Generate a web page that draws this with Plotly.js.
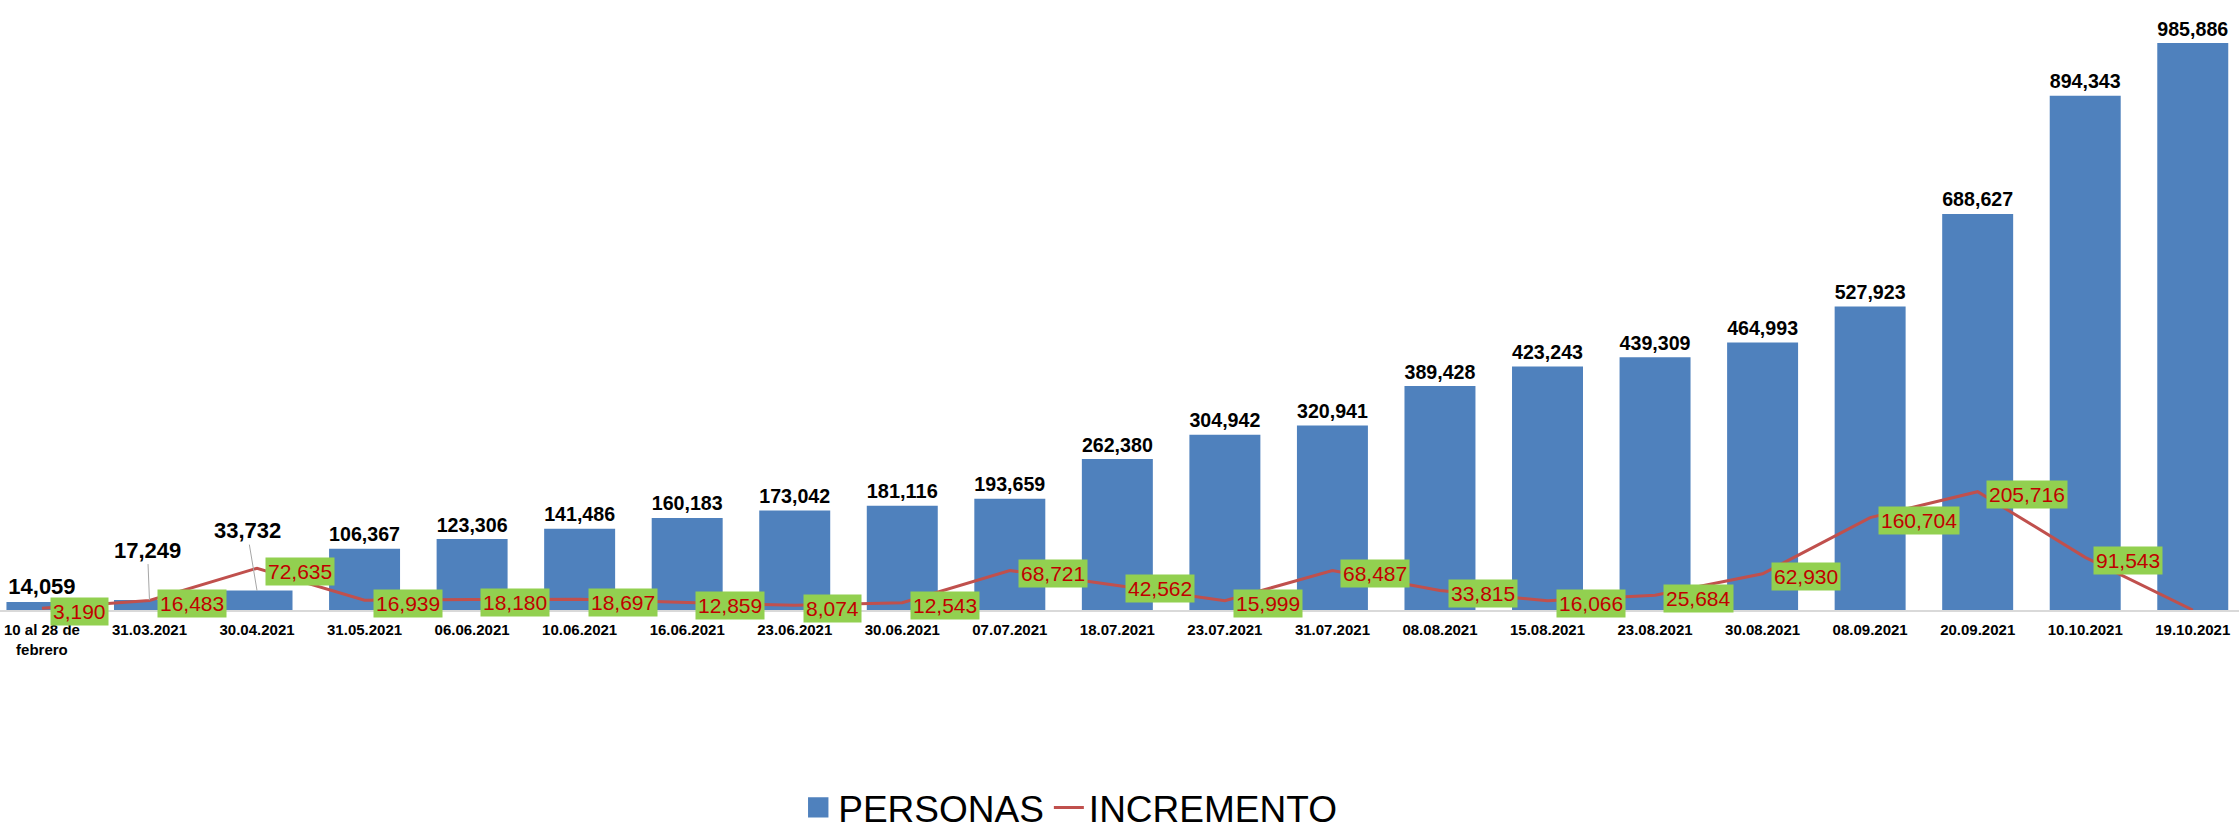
<!DOCTYPE html>
<html>
<head>
<meta charset="utf-8">
<script src="https://cdn.plot.ly/plotly-3.0.1.min.js"></script>
<style>html,body{margin:0;padding:0;background:#fff;}#chart{width:2239px;height:832px;}</style>
</head>
<body>
<div id="chart"></div>
<script>
const categories = ["10 al 28 de<br>febrero","31.03.2021","30.04.2021","31.05.2021","06.06.2021","10.06.2021","16.06.2021","23.06.2021","30.06.2021","07.07.2021","18.07.2021","23.07.2021","31.07.2021","08.08.2021","15.08.2021","23.08.2021","30.08.2021","08.09.2021","20.09.2021","10.10.2021","19.10.2021"];
const personas = [14059,17249,33732,106367,123306,141486,160183,173042,181116,193659,262380,304942,320941,389428,423243,439309,464993,527923,688627,894343,985886];
const incremento = [3190,16483,72635,16939,18180,18697,12859,8074,12543,68721,42562,15999,68487,33815,16066,25684,62930,160704,205716,91543,0];
const calloutIdx = [1, 2];
const calloutOffsets = {1: [-2, -50], 2: [-10, -60]};

const fmt = v => v.toLocaleString('en-US');
const barText = personas.map((v, i) => calloutIdx.includes(i) ? '' : fmt(v));

const bars = {
  type: 'bar', name: 'PERSONAS', x: categories, y: personas,
  marker: {color: '#4F81BD'},
  text: barText, textposition: 'outside', cliponaxis: false,
  textfont: {family: 'Arial, Liberation Sans', size: 22, color: '#000', weight: 'bold'},
  hoverinfo: 'x+y'
};
const line = {
  type: 'scatter', mode: 'lines', name: 'INCREMENTO', x: categories, y: incremento,
  line: {color: '#C0504D', width: 3}, cliponaxis: false
};

const annotations = [];
incremento.forEach((v, i) => {
  if (v === 0) return;
  annotations.push({
    x: categories[i], y: v, xref: 'x', yref: 'y', text: fmt(v), showarrow: false,
    xanchor: 'left', yanchor: 'middle', xshift: 8, yshift: -3,
    bgcolor: '#92D050', borderpad: 2,
    font: {family: 'Arial, Liberation Sans', size: 21, color: '#C00000'}
  });
});
calloutIdx.forEach(i => {
  annotations.push({
    x: categories[i], y: personas[i], xref: 'x', yref: 'y', text: '<b>' + fmt(personas[i]) + '</b>',
    showarrow: true, arrowhead: 0, arrowwidth: 1, arrowcolor: '#a6a6a6',
    ax: calloutOffsets[i][0], ay: calloutOffsets[i][1], standoff: 0,
    font: {family: 'Arial, Liberation Sans', size: 22, color: '#000'}
  });
});

const layout = {
  width: 2239, height: 832,
  margin: {l: 0, r: 0, t: 0, b: 222, autoexpand: false},
  paper_bgcolor: '#fff', plot_bgcolor: '#fff',
  bargap: 0.34,
  showlegend: true,
  legend: {orientation: 'h', x: 0.478, xanchor: 'center', yref: 'container', y: 0.029, yanchor: 'middle',
    itemwidth: 30,
    font: {family: 'Arial, Liberation Sans', size: 37, color: '#000'}},
  xaxis: {type: 'category', range: [-0.39, 20.43], showgrid: false, showline: true,
    linecolor: '#d9d9d9', linewidth: 2, ticks: '', fixedrange: true, ticklabelstandoff: 5,
    automargin: false,
    tickfont: {family: 'Arial, Liberation Sans', size: 15, color: '#000', weight: 'bold'}},
  yaxis: {range: [0, 1060670], visible: false, showgrid: false, zeroline: false},
  annotations: annotations
};

Plotly.newPlot('chart', [bars, line], layout, {displayModeBar: false, responsive: false}).then(gd => {
  gd.querySelectorAll('.legend .traces').forEach((tr, k) => {
    const pts = tr.querySelector('.legendpoints');
    if (k === 0 && pts) {
      const p = pts.querySelector('path');
      if (p) p.setAttribute('transform', 'translate(20,0) scale(1.7)');
    }
  });
});
</script>
</body>
</html>
